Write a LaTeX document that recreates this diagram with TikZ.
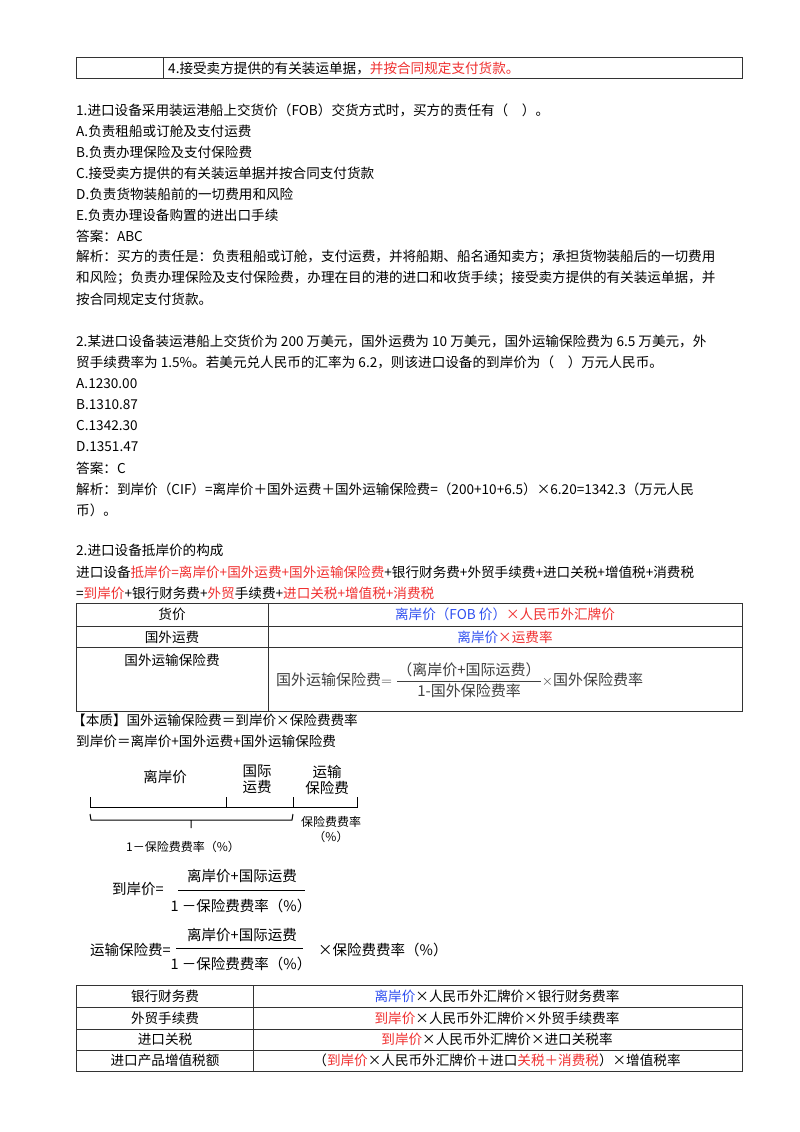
\documentclass[tikz,border=0pt]{standalone}
\usepackage{amsmath}
\usepackage{fontspec}
\setmainfont{Noto Sans CJK SC}
\definecolor{rd}{HTML}{F03030}
\definecolor{bl}{HTML}{3050F0}
\begin{document}
\begin{tikzpicture}[x=1pt,y=-1pt,
  t/.style={anchor=west,inner sep=0,font=\fontsize{13.6}{16}\selectfont},
  c/.style={anchor=center,inner sep=0,font=\fontsize{13.6}{16}\selectfont},
  s/.style={anchor=center,inner sep=0,font=\fontsize{14.5}{16}\selectfont,align=center},
  grid/.style={draw=black!80,line width=0.7pt},
  br/.style={line width=1pt}]
\useasboundingbox[fill=white] (0,0) rectangle (800,1132);
% top table
\draw[grid] (76,57) rectangle (742,78) (163,57)--(163,78);
\node[t] (top) at (168,68) {4.接受卖方提供的有关装运单据，\textcolor{rd}{并按合同规定支付货款。}};
% Q1
\node[t] (q1) at (76,110) {1.进口设备采用装运港船上交货价（FOB）交货方式时，买方的责任有（\quad ）。};
\node[t] (a1) at (76,131) {A.负责租船或订舱及支付运费};
\node[t] (b1) at (76,152) {B.负责办理保险及支付保险费};
\node[t] (c1) at (76,173) {C.接受卖方提供的有关装运单据并按合同支付货款};
\node[t] (d1) at (76,194) {D.负责货物装船前的一切费用和风险};
\node[t] (e1) at (76,215) {E.负责办理设备购置的进出口手续};
\node[t] (ans1) at (76,236) {答案：ABC};
\node[t] (ex1a) at (76,257) {解析：买方的责任是：负责租船或订舱，支付运费，并将船期、船名通知卖方；承担货物装船后的一切费用};
\node[t] (ex1b) at (76,278) {和风险；负责办理保险及支付保险费，办理在目的港的进口和收货手续；接受卖方提供的有关装运单据，并};
\node[t] (ex1c) at (76,299) {按合同规定支付货款。};
% Q2
\node[t] (q2a) at (76,341) {2.某进口设备装运港船上交货价为 200 万美元，国外运费为 10 万美元，国外运输保险费为 6.5 万美元，外};
\node[t] (q2b) at (76,362) {贸手续费率为 1.5\%。若美元兑人民币的汇率为 6.2，则该进口设备的到岸价为（\quad ）万元人民币。};
\node[t] (a2) at (76,384) {A.1230.00};
\node[t] (b2) at (76,405) {B.1310.87};
\node[t] (c2) at (76,426) {C.1342.30};
\node[t] (d2) at (76,447) {D.1351.47};
\node[t] (ans2) at (76,468) {答案：C};
\node[t] (ex2a) at (76,489) {解析：到岸价（CIF）=离岸价＋国外运费＋国外运输保险费=（200+10+6.5）×6.20=1342.3（万元人民};
\node[t] (ex2b) at (76,510) {币）。};
% section
\node[t] (sec) at (76,550) {2.进口设备抵岸价的构成};
\node[t] (f1) at (76,572) {进口设备\textcolor{rd}{抵岸价=离岸价+国外运费+国外运输保险费}+银行财务费+外贸手续费+进口关税+增值税+消费税};
\node[t] (f2) at (76,593) {=\textcolor{rd}{到岸价}+银行财务费+\textcolor{rd}{外贸}手续费+\textcolor{rd}{进口关税+增值税+消费税}};
% table 2
\draw[grid] (76,603) rectangle (742,711) (76,626)--(742,626) (76,647)--(742,647) (268,603)--(268,711);
\node[c] (r1l) at (172,614) {货价};
\node[c] (r1r) at (505,614) {\textcolor{bl}{离岸价（FOB 价）}\textcolor{rd}{×人民币外汇牌价}};
\node[c] (r2l) at (172,637) {国外运费};
\node[c] (r2r) at (505,637) {\textcolor{bl}{离岸价}\textcolor{rd}{×运费率}};
\node[c] (r3l) at (172,660) {国外运输保险费};
\node[anchor=west,inner sep=0,text=black!75,font=\fontsize{15}{17}\selectfont] (r3r) at (276,680) {国外运输保险费$=\dfrac{\text{（离岸价+国际运费）}}{\text{1-国外保险费率}}\times$国外保险费率};
\node[t] (ess) at (72,720) {【本质】国外运输保险费＝到岸价×保险费费率};
\node[t] (cif) at (76,741) {到岸价＝离岸价+国外运费+国外运输保险费};
% diagram
\node[s] (lb1) at (165,777) {离岸价};
\node[s] (lb2) at (257,779) {国际\\运费};
\node[s] (lb3) at (327,780) {运输\\保险费};
\draw[br] (90,797)--(90,807)--(357,807)--(357,797) (226,797)--(226,807) (293,797)--(293,807);
\draw[br] (90,814)--(91,820)--(292,820)--(293,814) (191,820)--(191,828);
\node[s,font=\fontsize{12}{15}\selectfont] (lb4) at (331,829) {保险费费率\\（\%）};
\node[s,font=\fontsize{12}{14}\selectfont] (lb5) at (183,847) {1－保险费费率（\%）};
\node[s,anchor=west] (ci) at (112,889) {到岸价=};
\node[s] (n1) at (242,876) {离岸价+国际运费};
\draw[line width=0.8pt] (178,890)--(305,890);
\node[s] (d1n) at (241,906) {1 －保险费费率（\%）};
\node[s,anchor=west] (ti) at (90,950) {运输保险费=};
\node[s] (n2) at (242,935) {离岸价+国际运费};
\draw[line width=0.8pt] (176,948)--(303,948);
\node[s] (d2n) at (241,964) {1 －保险费费率（\%）};
\node[s,anchor=west] (ti2) at (318,950) {×保险费费率（\%）};
% table 3
\draw[grid] (76,985) rectangle (742,1071) (76,1007)--(742,1007) (76,1029)--(742,1029) (76,1050)--(742,1050) (253,985)--(253,1071);
\node[c] (t1l) at (165,996) {银行财务费};
\node[c] (t1r) at (497,996) {\textcolor{bl}{离岸价}×人民币外汇牌价×银行财务费率};
\node[c] (t2l) at (165,1018) {外贸手续费};
\node[c] (t2r) at (497,1018) {\textcolor{rd}{到岸价}×人民币外汇牌价×外贸手续费率};
\node[c] (t3l) at (165,1039) {进口关税};
\node[c] (t3r) at (497,1039) {\textcolor{rd}{到岸价}×人民币外汇牌价×进口关税率};
\node[c] (t4l) at (165,1060) {进口产品增值税额};
\node[c] (t4r) at (497,1060) {（\textcolor{rd}{到岸价}×人民币外汇牌价＋进口\textcolor{rd}{关税＋消费税}）×增值税率};
\end{tikzpicture}
\end{document}
